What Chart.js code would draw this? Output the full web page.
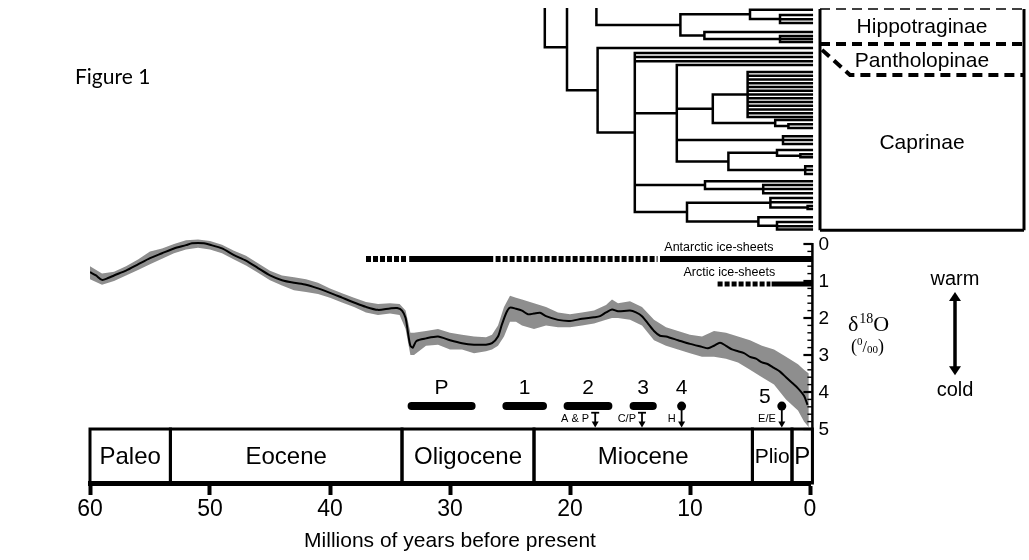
<!DOCTYPE html>
<html>
<head>
<meta charset="utf-8">
<script src="https://cdn.jsdelivr.net/npm/chart.js@4.4.0/dist/chart.umd.min.js"></script>
<style>
  html, body { margin: 0; padding: 0; background: #fff; }
</style>
</head>
<body>
<canvas id="fig1" width="1029" height="560"></canvas>
<script>
const SANS = '"Liberation Sans", Arial, sans-serif';
const SERIF = '"Liberation Serif", "Times New Roman", serif';

// oxygen isotope curve (age in Ma, d18O in per mil)
const curveAge = [60,59.5,59,58.5,58,57,56,55,54,53,52,51.5,51,50.5,50,49,48,47,46,45,44,43,42,41,40,39,38,37,36,35,34.4,34,33.7,33.5,33.3,33.1,32.8,32,31,30,29,28,27,26.5,26,25.7,25.3,25,24.5,24,23.5,23,22.5,22,21,20,19,18,17.5,17,16.5,16,15,14.5,14,13.5,13,12.5,12,11,10,9,8.5,8,7.5,7,6.5,6,5.5,5,4.5,4,3.5,3,2.5,2,1.5,1,0.5,0.2];
const curveD18O = [0.76,0.85,0.97,0.92,0.85,0.72,0.55,0.38,0.25,0.12,0.03,-0.02,-0.03,-0.02,0.02,0.12,0.3,0.45,0.65,0.85,0.98,1.05,1.1,1.2,1.32,1.45,1.58,1.7,1.78,1.74,1.73,1.8,2.0,2.4,2.75,2.8,2.62,2.55,2.5,2.6,2.68,2.72,2.72,2.68,2.5,2.2,1.85,1.72,1.75,1.8,1.9,1.88,1.86,1.95,2.05,2.08,2.02,1.98,1.95,1.85,1.77,1.82,1.8,1.85,1.95,2.15,2.35,2.48,2.5,2.6,2.7,2.78,2.82,2.75,2.67,2.75,2.85,2.9,2.95,3.05,3.1,3.2,3.25,3.35,3.45,3.6,3.75,3.9,4.1,4.35];

// grey scatter envelope of the raw data
const bandAge = [60,59,58,57,56,55,54,53,52,51,50,49,48,47,46,45,44,43,42,41,40,39,38,37,36,35,34.2,33.7,33.3,33,32,31,30,29,28,27,26.5,26,25.5,25,24.5,24,23,22,21,20,19,18,17,16.5,16,15,14,13,12,11,10,9,8,7,6,5,4,3,2,1,0.5,0.1];
const bandWarm = [0.6,0.8,0.75,0.6,0.42,0.2,0.12,0.0,-0.1,-0.12,-0.08,0.02,0.18,0.32,0.52,0.72,0.85,0.9,0.95,1.05,1.2,1.33,1.45,1.57,1.62,1.6,1.62,1.8,2.4,2.4,2.35,2.3,2.4,2.45,2.5,2.52,2.45,2.2,1.7,1.4,1.45,1.5,1.6,1.7,1.85,1.9,1.85,1.8,1.65,1.5,1.6,1.55,1.7,2.05,2.25,2.35,2.45,2.5,2.35,2.4,2.5,2.6,2.75,2.85,3.05,3.25,3.4,3.5];
const bandCold = [0.95,1.1,1.0,0.85,0.7,0.55,0.4,0.25,0.15,0.1,0.15,0.25,0.42,0.58,0.78,0.98,1.12,1.25,1.3,1.35,1.45,1.58,1.7,1.85,1.92,1.88,1.92,2.3,3.0,3.0,2.75,2.72,2.85,2.85,2.95,2.9,2.85,2.75,2.5,2.1,2.1,2.2,2.3,2.2,2.25,2.25,2.2,2.15,2.05,2.0,2.0,2.05,2.2,2.6,2.75,2.85,2.95,3.05,3.05,3.1,3.2,3.4,3.6,3.8,4.2,4.5,4.8,4.95];

// epochs
const epochNames = ['Paleo', 'Eocene', 'Oligocene', 'Miocene', 'Plio', 'P'];
const epochStart = [60, 53.3, 34, 23, 4.8, 1.5];
const epochEnd = [53.3, 34, 23, 4.8, 1.5, -0.2];

// right axis
const d18oTicks = [0, 1, 2, 3, 4, 5];

// ice sheets [from, to] in Ma
const antarcticSolid = [[33.4, 26.4], [12.5, -0.2]];
const antarcticDashed = [[37, 33.6], [26.2, 12.7]];
const arcticSolid = [[3.2, -0.2]];
const arcticDashed = [[7.7, 3.3]];

// events
const eventLabels = ['P', '1', '2', '3', '4', '5'];
const eventStart = [33.2, 25.3, 20.2, 14.7, 10.7, 2.35];
const eventEnd = [28.2, 22.25, 16.8, 13.1, 10.7, 2.35];
const arrowLabels = ['A & P', 'C/P', 'H', 'E/E'];
const arrowAge = [17.9, 14.0, 10.7, 2.35];

// phylogeny: [node age, ...children], a bare number is a tip (row)
const hippoTree =
  [17.8, -7.7,
    [10.8,
      [5.0, 0.2, [2.5, 1.6, 2.7, 3.7]],
      [8.8, 6.1, [2.5, 7.2, 8.0, 8.8]]]];
const caprinaeTree =
  [22.1, -13,
    [20.25, -1.3,
      [17.7, 10.4,
        [14.6, 11.7, 12.8, 13.9,
          [11.1, 14.9,
            [8.1,
              [5.2, 16.8, 17.8, 18.8, 19.8, 20.8, 21.8, 22.8, 23.8, 24.8, 25.8, 26.8, 27.8, 28.8],
              [2.9, 29.6, [1.8, 30.7, 31.7]]],
            [2.25, 33.9, 34.9, 36.0],
            [6.8, [2.75, 37.6, [0.8, 38.7, 39.5]], [0.4, 41.9, 42.9, 44.0]]],
          [8.75, 45.9, [3.9, 46.9, 48.0, 49.1]],
          [10.25, [3.3, 50.4, 51.5, [0.2, 52.5, 53.3]], [4.3, 55.5, [2.75, 56.8, 57.9, 58.8]]]]]]];
const cladeNames = ['Hippotraginae', 'Pantholopinae', 'Caprinae'];

// ---- build datasets ----
const TIP_END = -0.15; // tips run flush to the right-hand axis

function treeSegments(node, out) {
  if (typeof node === 'number') return node;
  const age = node[0];
  const kids = node.slice(1);
  const ys = kids.map((k) => treeSegments(k, out));
  kids.forEach((k, i) => {
    const end = typeof k === 'number' ? TIP_END : k[0];
    out.push({ x: age, y: ys[i] }, { x: end, y: ys[i] }, { x: end, y: null });
  });
  out.push({ x: age, y: ys[0] }, { x: age, y: ys[ys.length - 1] }, { x: age, y: null });
  return (ys[0] + ys[ys.length - 1]) / 2;
}
const treePoints = [];
treeSegments(hippoTree, treePoints);
treeSegments(caprinaeTree, treePoints);

function bars(list, level) {
  const pts = [];
  list.forEach((r) => pts.push({ x: r[0], y: level }, { x: r[1], y: level }, { x: r[1], y: null }));
  return pts;
}

const EVENT_LEVEL = 4.38;
const eventBars = [];
const eventDots = [];
eventLabels.forEach((l, i) => {
  if (eventStart[i] === eventEnd[i]) eventDots.push({ x: eventStart[i], y: EVENT_LEVEL });
  else eventBars.push([eventStart[i], eventEnd[i]]);
});

const lineBase = { pointRadius: 0, fill: false, tension: 0, borderColor: '#000' };

const overlay = {
  id: 'overlay',
  afterDraw(chart) {
    const ctx = chart.ctx;
    const area = chart.chartArea;
    const X = (v) => chart.scales.x.getPixelForValue(v);
    const Y = (v) => chart.scales.y.getPixelForValue(v);
    const T = (v) => chart.scales.yt.getPixelForValue(v);
    const line = (x1, y1, x2, y2) => { ctx.beginPath(); ctx.moveTo(x1, y1); ctx.lineTo(x2, y2); ctx.stroke(); };
    ctx.save();
    ctx.fillStyle = '#000';
    ctx.strokeStyle = '#000';

    // epoch boxes
    const top = Y(5), bot = area.bottom;
    ctx.lineWidth = 3;
    ctx.textAlign = 'center';
    ctx.textBaseline = 'middle';
    epochNames.forEach((n, i) => {
      const x1 = X(epochStart[i]), x2 = X(epochEnd[i]);
      ctx.strokeRect(x1, top, x2 - x1, bot - top);
      let size = 24;
      ctx.font = size + 'px ' + SANS;
      while (ctx.measureText(n).width > x2 - x1 - 4 && size > 12) {
        size -= 1;
        ctx.font = size + 'px ' + SANS;
      }
      ctx.fillText(n, (x1 + x2) / 2, (top + bot) / 2 + 1);
    });

    // d18O axis
    const ax = X(-0.2);
    ctx.lineWidth = 2.5;
    line(ax, Y(0) - 1, ax, bot);
    for (let k = 0; k <= 25; k++) {
      const v = k / 5;
      const major = k % 5 === 0;
      ctx.lineWidth = major ? 2.2 : 1.4;
      line(ax - (major ? 9 : 5), Y(v), ax, Y(v));
    }
    ctx.font = '19px ' + SANS;
    ctx.textAlign = 'left';
    d18oTicks.forEach((v) => ctx.fillText(String(v), ax + 6, Y(v) + 1));

    // d18O label
    ctx.textBaseline = 'alphabetic';
    let px = area.right + 38;
    const py = Y(2) + 13;
    ctx.font = '22px ' + SERIF;
    ctx.fillText('\u03b4', px, py);
    px += ctx.measureText('\u03b4').width + 1;
    ctx.font = '14px ' + SERIF;
    ctx.fillText('18', px, py - 8);
    px += ctx.measureText('18').width;
    ctx.font = '22px ' + SERIF;
    ctx.fillText('O', px, py);
    // (0/00)
    let qx = area.right + 41;
    const qy = Y(3) - 3;
    ctx.font = '18px ' + SERIF;
    ctx.fillText('(', qx, qy); qx += ctx.measureText('(').width;
    ctx.font = '11px ' + SERIF;
    ctx.fillText('0', qx, qy - 7); qx += ctx.measureText('0').width;
    ctx.font = '16px ' + SERIF;
    ctx.fillText('/', qx, qy); qx += ctx.measureText('/').width;
    ctx.font = '11px ' + SERIF;
    ctx.fillText('00', qx, qy + 1); qx += ctx.measureText('00').width;
    ctx.font = '18px ' + SERIF;
    ctx.fillText(')', qx, qy);

    // warm / cold
    const wx = area.right + 145;
    ctx.font = '20px ' + SANS;
    ctx.textAlign = 'center';
    ctx.textBaseline = 'middle';
    ctx.fillText('warm', wx, Y(0.97));
    ctx.fillText('cold', wx, Y(3.95));
    const ay1 = Y(1.3), ay2 = Y(3.55);
    ctx.lineWidth = 3.5;
    line(wx, ay1 + 6, wx, ay2 - 6);
    ctx.beginPath(); ctx.moveTo(wx, ay1); ctx.lineTo(wx - 6, ay1 + 9); ctx.lineTo(wx + 6, ay1 + 9); ctx.closePath(); ctx.fill();
    ctx.beginPath(); ctx.moveTo(wx, ay2); ctx.lineTo(wx - 6, ay2 - 9); ctx.lineTo(wx + 6, ay2 - 9); ctx.closePath(); ctx.fill();

    // ice sheet labels
    ctx.font = '12.5px ' + SANS;
    ctx.textAlign = 'right';
    ctx.fillText('Antarctic ice-sheets', X(3.05), Y(0.1));
    ctx.fillText('Arctic ice-sheets', X(2.9), Y(0.78));

    // event labels
    ctx.font = '21px ' + SANS;
    ctx.textAlign = 'center';
    eventLabels.forEach((l, i) => {
      let lx = (X(eventStart[i]) + X(eventEnd[i])) / 2;
      let ly = Y(3.9);
      if (i === eventLabels.length - 1) { lx -= 17; ly = Y(4.15); }
      ctx.fillText(l, lx, ly);
    });

    // arrows to epoch boxes
    arrowLabels.forEach((l, i) => {
      const x = X(arrowAge[i]);
      const fromBar = eventEnd.every((e, j) => eventStart[j] !== arrowAge[i]);
      const y1 = fromBar ? Y(4.56) : Y(4.38), y2 = Y(4.96);
      ctx.lineWidth = 1.8;
      line(x, y1, x, y2 - 5);
      if (fromBar) line(x - 4, y1, x + 4, y1);
      ctx.beginPath(); ctx.moveTo(x - 3.5, y2 - 6); ctx.lineTo(x + 3.5, y2 - 6); ctx.lineTo(x, y2); ctx.closePath(); ctx.fill();
      ctx.font = '11px ' + SANS;
      ctx.textAlign = 'right';
      ctx.fillText(l, x - 6, Y(4.72));
    });

    // clade box beside the tree
    const bx1 = area.right + 10, bx2 = chart.width - 5;
    const bTop = area.top, bBot = T(59.0);
    ctx.lineWidth = 3;
    line(bx1, bTop, bx1, bBot);
    line(bx1, bBot, bx2, bBot);
    line(bx2, bTop, bx2, bBot);
    ctx.setLineDash([10, 6]);
    ctx.lineWidth = 1.5;
    line(bx1, bTop, bx2, bTop);
    ctx.lineWidth = 4;
    line(bx1, T(9.3), bx2, T(9.3));
    ctx.beginPath();
    ctx.moveTo(bx1 + 2, T(10.9));
    ctx.lineTo(bx1 + 30, T(17.6));
    ctx.lineTo(bx2, T(17.6));
    ctx.stroke();
    ctx.setLineDash([]);
    ctx.font = '21px ' + SANS;
    ctx.textAlign = 'center';
    const cx = (bx1 + bx2) / 2;
    ctx.fillText(cladeNames[0], cx, T(4.8));
    ctx.fillText(cladeNames[1], cx, T(13.9));
    ctx.fillText(cladeNames[2], cx, T(35.7));

    // figure caption
    ctx.font = '21px Lato, "Open Sans", sans-serif';
    ctx.textAlign = 'left';
    ctx.fillText('Figure 1', 75, 77);
    ctx.restore();
  }
};

new Chart(document.getElementById('fig1'), {
  type: 'line',
  data: {
    datasets: [
      Object.assign({}, lineBase, {
        label: 'd18O', order: 0, yAxisID: 'y', borderWidth: 2, tension: 0.25,
        data: curveAge.map((a, i) => ({ x: a, y: curveD18O[i] }))
      }),
      Object.assign({}, lineBase, {
        label: 'band warm', order: 5, yAxisID: 'y', borderWidth: 0, borderColor: 'rgba(0,0,0,0)',
        data: bandAge.map((a, i) => ({ x: a, y: bandWarm[i] }))
      }),
      Object.assign({}, lineBase, {
        label: 'band cold', order: 5, yAxisID: 'y', borderWidth: 0, borderColor: 'rgba(0,0,0,0)',
        fill: '-1', backgroundColor: '#8e8e8e',
        data: bandAge.map((a, i) => ({ x: a, y: bandCold[i] }))
      }),
      Object.assign({}, lineBase, {
        label: 'tree', order: 1, yAxisID: 'yt', borderWidth: 2.5, borderCapStyle: 'square',
        clip: { left: 2, top: 1, right: 4, bottom: 2 },
        data: treePoints
      }),
      Object.assign({}, lineBase, {
        label: 'antarctic', order: 1, yAxisID: 'y', borderWidth: 6, borderCapStyle: 'butt',
        clip: { left: 2, top: 2, right: 4, bottom: 2 },
        data: bars(antarcticSolid, 0.405)
      }),
      Object.assign({}, lineBase, {
        label: 'antarctic partial', order: 1, yAxisID: 'y', borderWidth: 6, borderCapStyle: 'butt', borderDash: [5, 2],
        data: bars(antarcticDashed, 0.405)
      }),
      Object.assign({}, lineBase, {
        label: 'arctic', order: 1, yAxisID: 'y', borderWidth: 5, borderCapStyle: 'butt',
        clip: { left: 2, top: 2, right: 4, bottom: 2 },
        data: bars(arcticSolid, 1.08)
      }),
      Object.assign({}, lineBase, {
        label: 'arctic partial', order: 1, yAxisID: 'y', borderWidth: 5, borderCapStyle: 'butt', borderDash: [5, 2],
        data: bars(arcticDashed, 1.08)
      }),
      Object.assign({}, lineBase, {
        label: 'events', order: 1, yAxisID: 'y', borderWidth: 8, borderCapStyle: 'round',
        data: bars(eventBars, EVENT_LEVEL)
      }),
      Object.assign({}, lineBase, {
        label: 'event points', order: 1, yAxisID: 'y', showLine: false,
        pointRadius: 4.5, pointBackgroundColor: '#000', pointBorderWidth: 0,
        data: eventDots
      })
    ]
  },
  options: {
    responsive: false,
    animation: false,
    events: [],
    layout: { padding: { left: 90, right: 219, top: 9, bottom: 0 } },
    plugins: { legend: { display: false }, tooltip: { enabled: false } },
    scales: {
      x: {
        type: 'linear', position: 'bottom', reverse: true, min: 0, max: 60,
        afterFit: (s) => { s.height = 77; },
        ticks: { stepSize: 10, color: '#000', padding: 1, maxRotation: 0, autoSkip: false,
                 font: { size: 23, family: SANS } },
        grid: { drawOnChartArea: false, tickLength: 12, tickWidth: 4, tickColor: '#000' },
        border: { display: true, width: 5, color: '#000' },
        title: { display: true, text: 'Millions of years before present', color: '#000',
                 font: { size: 21, family: SANS }, padding: { top: 0, bottom: 6 } }
      },
      y: { type: 'linear', display: false, reverse: true, min: -6.351, max: 6.459 },
      yt: { type: 'linear', display: false, reverse: true, min: 0, max: 126.4 }
    }
  },
  plugins: [overlay]
});
</script>
</body>
</html>
